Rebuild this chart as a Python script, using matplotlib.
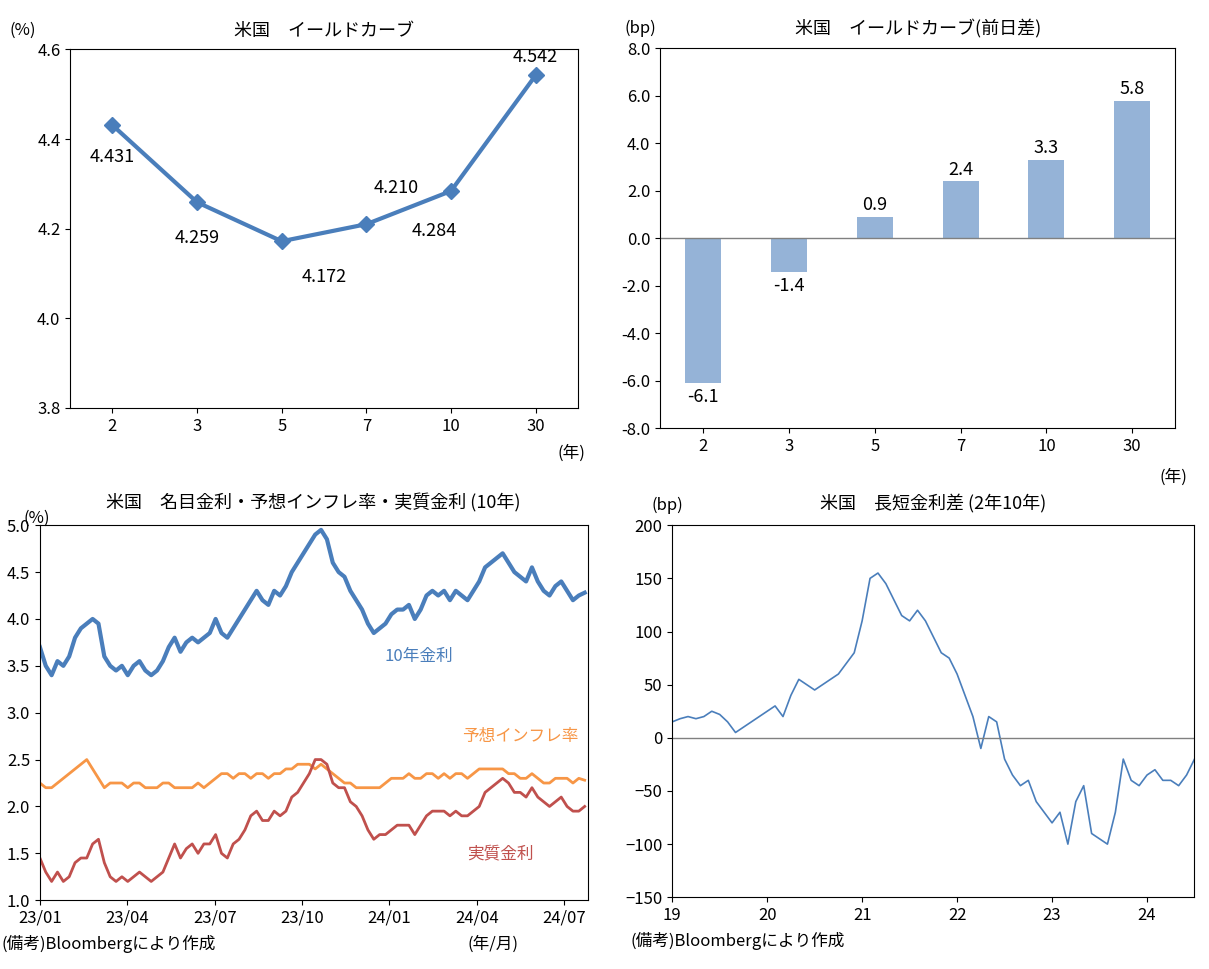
import numpy as np
import matplotlib.pyplot as plt

plt.rcParams['font.family'] = ['Noto Sans CJK JP', 'DejaVu Sans']
plt.rcParams['font.size'] = 12

MATS = ['2', '3', '5', '7', '10', '30']
YIELDS = [4.431, 4.259, 4.172, 4.210, 4.284, 4.542]
DIFFS = [-6.1, -1.4, 0.9, 2.4, 3.3, 5.8]

NOMINAL = [3.7, 3.5, 3.4, 3.55, 3.5, 3.6, 3.8, 3.9, 3.95, 4.0,
           3.95, 3.6, 3.5, 3.45, 3.5, 3.4, 3.5, 3.55, 3.45, 3.4,
           3.45, 3.55, 3.7, 3.8, 3.65, 3.75, 3.8, 3.75, 3.8, 3.85,
           4.0, 3.85, 3.8, 3.9, 4.0, 4.1, 4.2, 4.3, 4.2, 4.15,
           4.3, 4.25, 4.35, 4.5, 4.6, 4.7, 4.8, 4.9, 4.95, 4.85,
           4.6, 4.5, 4.45, 4.3, 4.2, 4.1, 3.95, 3.85, 3.9, 3.95,
           4.05, 4.1, 4.1, 4.15, 4.0, 4.1, 4.25, 4.3, 4.25, 4.3,
           4.2, 4.3, 4.25, 4.2, 4.3, 4.4, 4.55, 4.6, 4.65, 4.7,
           4.6, 4.5, 4.45, 4.4, 4.55, 4.4, 4.3, 4.25, 4.35, 4.4,
           4.3, 4.2, 4.25, 4.28]
BEI = [2.25, 2.2, 2.2, 2.25, 2.3, 2.35, 2.4, 2.45, 2.5, 2.4,
       2.3, 2.2, 2.25, 2.25, 2.25, 2.2, 2.25, 2.25, 2.2, 2.2,
       2.2, 2.25, 2.25, 2.2, 2.2, 2.2, 2.2, 2.25, 2.2, 2.25,
       2.3, 2.35, 2.35, 2.3, 2.35, 2.35, 2.3, 2.35, 2.35, 2.3,
       2.35, 2.35, 2.4, 2.4, 2.45, 2.45, 2.45, 2.4, 2.45, 2.4,
       2.35, 2.3, 2.25, 2.25, 2.2, 2.2, 2.2, 2.2, 2.2, 2.25,
       2.3, 2.3, 2.3, 2.35, 2.3, 2.3, 2.35, 2.35, 2.3, 2.35,
       2.3, 2.35, 2.35, 2.3, 2.35, 2.4, 2.4, 2.4, 2.4, 2.4,
       2.35, 2.35, 2.3, 2.3, 2.35, 2.3, 2.25, 2.25, 2.3, 2.3,
       2.3, 2.25, 2.3, 2.28]
SPREAD = [15, 18, 20, 18, 20, 25, 22, 15, 5, 10, 15, 20,
          25, 30, 20, 40, 55, 50, 45, 50, 55, 60, 70, 80,
          110, 150, 155, 145, 130, 115, 110, 120, 110, 95, 80, 75,
          60, 40, 20, -10, 20, 15, -20, -35, -45, -40, -60, -70,
          -80, -70, -100, -60, -45, -90, -95, -100, -70, -20, -40, -45,
          -35, -30, -40, -40, -45, -35, -20]


def yieldCurve(ax):
    x = np.arange(len(MATS))
    ax.plot(x, YIELDS, color='#4a7ebb', lw=3, marker='D', ms=8)
    offsets = [(0, -0.07), (0, -0.08), (0.5, -0.08), (0.35, 0.08), (-0.2, -0.09), (0, 0.04)]
    for i, (dx, dy) in enumerate(offsets):
        ax.text(x[i] + dx, YIELDS[i] + dy, '%.3f' % YIELDS[i], ha='center', va='center', fontsize=13)
    ax.set_ylim(3.8, 4.6)
    ax.set_yticks(np.arange(3.8, 4.61, 0.2))
    ax.set_yticklabels(['%.1f' % v for v in np.arange(3.8, 4.61, 0.2)])
    ax.set_xticks(x)
    ax.set_xticklabels(MATS)
    ax.set_xlim(-0.5, len(MATS) - 0.5)
    ax.set_title('米国　イールドカーブ', fontsize=13, pad=10)
    ax.text(-0.12, 1.04, '(%)', transform=ax.transAxes)
    ax.text(0.96, -0.14, '(年)', transform=ax.transAxes)


def diffBars(ax):
    x = np.arange(len(MATS))
    ax.bar(x, DIFFS, width=0.42, color='#95b3d7')
    ax.axhline(0, color='#808080', lw=1)
    for i, v in enumerate(DIFFS):
        ax.text(x[i], v + (0.5 if v > 0 else -0.6), '%.1f' % v, ha='center', va='center', fontsize=13)
    ax.set_ylim(-8, 8)
    ax.set_yticks(np.arange(-8, 8.1, 2))
    ax.set_yticklabels(['%.1f' % v for v in np.arange(-8, 8.1, 2)])
    ax.set_xticks(x)
    ax.set_xticklabels(MATS)
    ax.set_xlim(-0.5, len(MATS) - 0.5)
    ax.set_title('米国　イールドカーブ(前日差)', fontsize=13, pad=10)
    ax.text(-0.07, 1.04, '(bp)', transform=ax.transAxes)
    ax.text(0.97, -0.14, '(年)', transform=ax.transAxes)


def realRates(ax):
    n = len(NOMINAL)
    t = np.linspace(0, 18.7, n)
    real = np.array(NOMINAL) - np.array(BEI)
    ax.plot(t, NOMINAL, color='#4a7ebb', lw=3)
    ax.plot(t, BEI, color='#f79646', lw=2)
    ax.plot(t, real, color='#c0504d', lw=2)
    ax.text(13, 3.55, '10年金利', color='#4a7ebb', ha='center')
    ax.text(16.5, 2.7, '予想インフレ率', color='#f79646', ha='center')
    ax.text(15.8, 1.45, '実質金利', color='#c0504d', ha='center')
    ax.set_xlim(0, 18.8)
    ax.set_ylim(1.0, 5.0)
    ax.set_yticks(np.arange(1.0, 5.01, 0.5))
    ax.set_yticklabels(['%.1f' % v for v in np.arange(1.0, 5.01, 0.5)])
    ax.set_xticks([0, 3, 6, 9, 12, 15, 18])
    ax.set_xticklabels(['23/01', '23/04', '23/07', '23/10', '24/01', '24/04', '24/07'])
    ax.set_title('米国　名目金利・予想インフレ率・実質金利 (10年)', fontsize=13, pad=12)
    ax.text(-0.03, 1.005, '(%)', transform=ax.transAxes)
    ax.text(0.78, -0.13, '(年/月)', transform=ax.transAxes)
    ax.text(-0.07, -0.13, '(備考)Bloombergにより作成', transform=ax.transAxes)


def spread(ax):
    t = 2019 + np.arange(len(SPREAD)) / 12.0
    ax.plot(t, SPREAD, color='#4a7ebb', lw=1.2)
    ax.axhline(0, color='#808080', lw=1)
    ax.set_xlim(2019, 2024.5)
    ax.set_ylim(-150, 200)
    ax.set_yticks(np.arange(-150, 201, 50))
    ax.set_xticks(np.arange(2019, 2025))
    ax.set_xticklabels(['19', '20', '21', '22', '23', '24'])
    ax.set_title('米国　長短金利差 (2年10年)', fontsize=13, pad=12)
    ax.text(-0.04, 1.04, '(bp)', transform=ax.transAxes)
    ax.text(-0.08, -0.13, '(備考)Bloombergにより作成', transform=ax.transAxes)


def main():
    fig = plt.figure(figsize=(12.09, 9.69), dpi=100)
    yieldCurve(fig.add_axes([0.058, 0.579, 0.42, 0.37]))
    diffBars(fig.add_axes([0.546, 0.558, 0.426, 0.392]))
    realRates(fig.add_axes([0.033, 0.071, 0.453, 0.387]))
    spread(fig.add_axes([0.556, 0.074, 0.432, 0.384]))
    fig.savefig('out.png')
    plt.close()


if __name__ == '__main__':
    main()
